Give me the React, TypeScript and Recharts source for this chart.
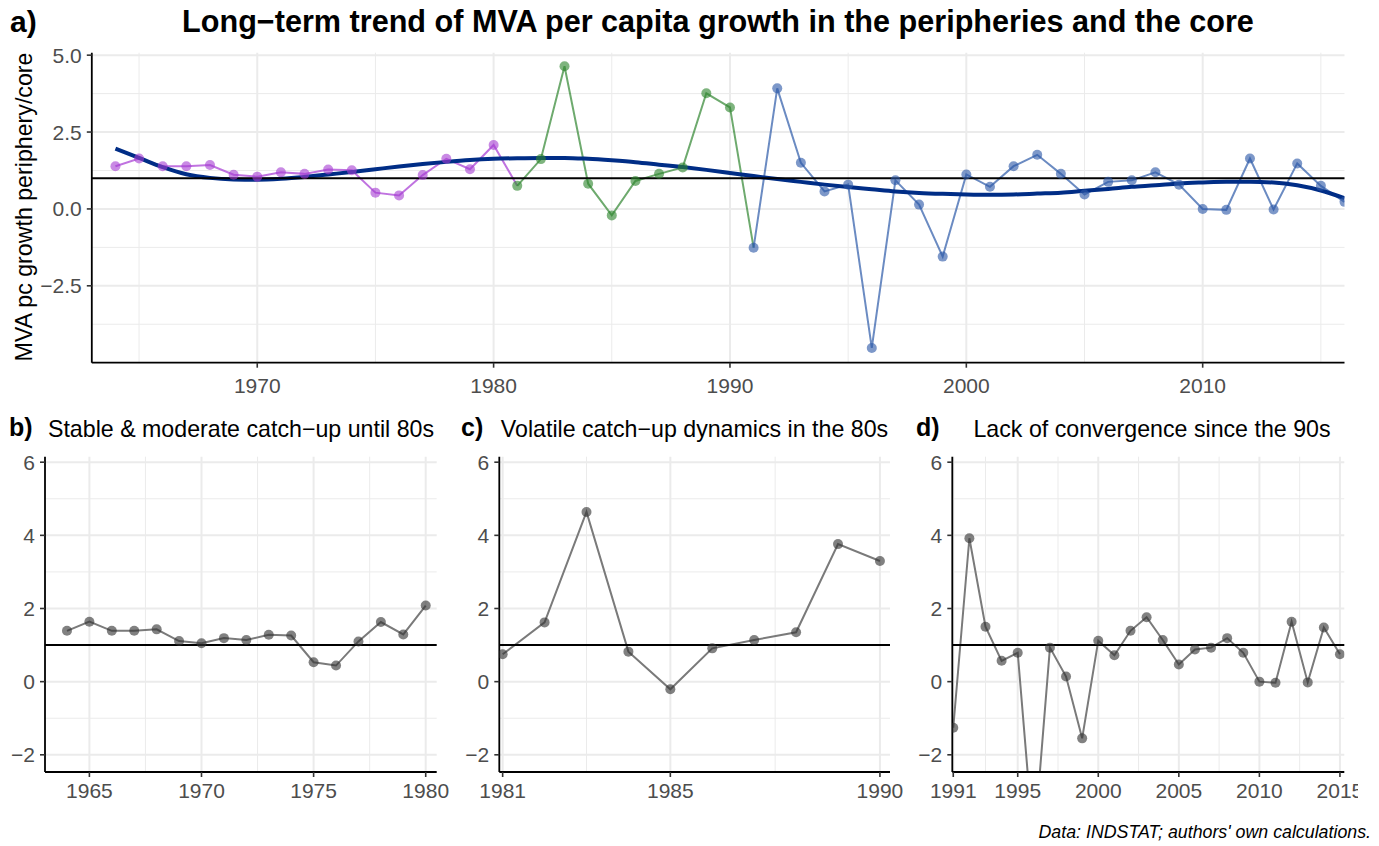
import {
  ComposedChart,
  Line,
  XAxis,
  YAxis,
  CartesianGrid,
  ReferenceLine,
} from 'recharts';

const FONT = '"Liberation Sans", Arial, Helvetica, sans-serif';
const MINUS = '\u2212';

// years and MVA pc growth ratio periphery/core
const YEARS = [
  1964, 1965, 1966, 1967, 1968, 1969, 1970, 1971, 1972, 1973, 1974, 1975, 1976, 1977, 1978, 1979, 1980,
  1981, 1982, 1983, 1984, 1985, 1986, 1987, 1988, 1989, 1990,
  1991, 1992, 1993, 1994, 1995, 1996, 1997, 1998, 1999, 2000, 2001, 2002, 2003, 2004, 2005,
  2006, 2007, 2008, 2009, 2010, 2011, 2012, 2013, 2014, 2015, 2016,
];
const RATIO = [
  1.39, 1.64, 1.39, 1.39, 1.43, 1.11, 1.05, 1.19, 1.14, 1.28, 1.26, 0.53, 0.44, 1.1, 1.63, 1.29, 2.08,
  0.75, 1.62, 4.64, 0.82, -0.21, 0.91, 1.14, 1.35, 3.76, 3.3,
  -1.26, 3.92, 1.5, 0.57, 0.79, -4.52, 0.93, 0.14, -1.55, 1.12, 0.72, 1.39, 1.76, 1.14, 0.47,
  0.88, 0.93, 1.19, 0.79, 0.0, -0.03, 1.64, -0.02, 1.48, 0.75, 0.23,
];
// smoothed long-term trend
const TREND = [
  1.96, 1.66, 1.36, 1.13, 1.01, 0.96, 0.95, 0.98, 1.04, 1.12, 1.2, 1.29, 1.38, 1.46, 1.53, 1.59, 1.63,
  1.65, 1.66, 1.66, 1.63, 1.58, 1.52, 1.44, 1.36, 1.27, 1.17,
  1.07, 0.97, 0.88, 0.79, 0.71, 0.64, 0.57, 0.52, 0.49, 0.47, 0.46, 0.47, 0.5, 0.53, 0.59,
  0.65, 0.72, 0.77, 0.83, 0.86, 0.88, 0.88, 0.86, 0.77, 0.6, 0.35,
];

const MAIN_X_TICKS = [1970, 1980, 1990, 2000, 2010];
const MAIN_X_MINOR = [1965, 1975, 1985, 1995, 2005, 2015];
const MAIN_Y_TICKS = [-2.5, 0, 2.5, 5];
const MAIN_Y_MINOR = [-3.75, -1.25, 1.25, 3.75];

const SMALL_Y_TICKS = [-2, 0, 2, 4, 6];
const SMALL_Y_MINOR = [-1, 1, 3, 5];

const B_X_TICKS = [1965, 1970, 1975, 1980];
const B_X_MINOR = [1967.5, 1972.5, 1977.5];
const C_X_TICKS = [1981, 1985, 1990];
const C_X_MINOR = [1983, 1987.5];
const D_X_TICKS = [1991, 1995, 2000, 2005, 2010, 2015];
const D_X_MINOR = [1993, 1997.5, 2002.5, 2007.5, 2012.5];

const fmt1 = (v: number) => v.toFixed(1).replace('-', MINUS);
const fmt0 = (v: number) => String(v).replace('-', MINUS);

const TICK = { fill: '#4D4D4D', fontSize: 21, fontFamily: FONT };
const AXIS_LINE = { stroke: '#000', strokeWidth: 1.8 };
const TICK_LINE = { stroke: '#333', strokeWidth: 1.6 };

// main panel: lines are coloured by the earlier period at the joins
const mainData = YEARS.map((year, i) => {
  const v = RATIO[i];
  return {
    year,
    purpleLine: year <= 1981 ? v : null,
    greenLine: year >= 1981 && year <= 1991 ? v : null,
    blueLine: year >= 1991 ? v : null,
    purplePt: year <= 1980 ? v : null,
    greenPt: year >= 1981 && year <= 1990 ? v : null,
    bluePt: year >= 1991 ? v : null,
    trend: TREND[i],
  };
});

const rowsBetween = (from: number, to: number) =>
  YEARS.map((year, i) => ({ year, value: RATIO[i] })).filter((d) => d.year >= from && d.year <= to);

interface SmallPanelProps {
  data: { year: number; value: number }[];
  left: number;
  width: number;
  yAxisWidth: number;
  marginRight: number;
  xDomain: [number, number];
  xTicks: number[];
  xMinor: number[];
}

function SmallPanel({ data, left, width, yAxisWidth, marginRight, xDomain, xTicks, xMinor }: SmallPanelProps) {
  return (
    <div style={{ position: 'absolute', left, top: 440, width, height: 372, overflow: 'hidden' }}>
      <ComposedChart width={width} height={372} data={data} margin={{ top: 16.7, right: marginRight, bottom: 0, left: 0 }}>
        <CartesianGrid stroke="#EBEBEB" strokeWidth={1} horizontalValues={SMALL_Y_MINOR} verticalValues={xMinor} />
        <CartesianGrid stroke="#EBEBEB" strokeWidth={2} horizontalValues={SMALL_Y_TICKS} verticalValues={xTicks} />
        <XAxis
          type="number"
          dataKey="year"
          domain={xDomain}
          ticks={xTicks}
          allowDataOverflow
          interval={0}
          height={40}
          tickSize={5}
          tickMargin={6}
          axisLine={AXIS_LINE}
          tickLine={TICK_LINE}
          tick={TICK}
        />
        <YAxis
          type="number"
          domain={[-2.47, 6.15]}
          ticks={SMALL_Y_TICKS}
          allowDataOverflow
          interval={0}
          width={yAxisWidth}
          tickSize={5}
          tickMargin={5}
          tickFormatter={fmt0}
          axisLine={AXIS_LINE}
          tickLine={TICK_LINE}
          tick={TICK}
        />
        <Line dataKey="value" stroke="#7A7A7A" strokeWidth={2} dot={false} activeDot={false} isAnimationActive={false} />
        <Line
          dataKey="value"
          stroke="none"
          dot={{ r: 5, fill: '#333333', fillOpacity: 0.62, stroke: 'none' }}
          activeDot={false}
          isAnimationActive={false}
        />
        <ReferenceLine y={1} stroke="#000" strokeWidth={2} />
      </ComposedChart>
    </div>
  );
}

export default function App() {
  return (
    <div style={{ position: 'absolute', left: 0, top: 0, width: 1379, height: 846, background: '#fff', fontFamily: FONT }}>
      <div style={{ position: 'absolute', left: 0, top: 0 }}>
        <ComposedChart width={1379} height={400} data={mainData} margin={{ top: 52.7, right: 34.5, bottom: 0, left: 0 }}>
          <CartesianGrid stroke="#EBEBEB" strokeWidth={1} horizontalValues={MAIN_Y_MINOR} verticalValues={MAIN_X_MINOR} />
          <CartesianGrid stroke="#EBEBEB" strokeWidth={2} horizontalValues={MAIN_Y_TICKS} verticalValues={MAIN_X_TICKS} />
          <XAxis
            type="number"
            dataKey="year"
            domain={[1963, 2016]}
            ticks={MAIN_X_TICKS}
            allowDataOverflow
            interval={0}
            height={37.3}
            tickSize={5}
            tickMargin={10}
            axisLine={AXIS_LINE}
            tickLine={TICK_LINE}
            tick={TICK}
          />
          <YAxis
            type="number"
            domain={[-5, 5.08]}
            ticks={MAIN_Y_TICKS}
            allowDataOverflow
            interval={0}
            width={91.8}
            tickSize={5}
            tickMargin={5}
            tickFormatter={fmt1}
            axisLine={AXIS_LINE}
            tickLine={TICK_LINE}
            tick={TICK}
          />
          <Line dataKey="purpleLine" stroke="#B050D8" strokeOpacity={0.8} strokeWidth={2} dot={false} activeDot={false} isAnimationActive={false} />
          <Line dataKey="greenLine" stroke="#3E8E3E" strokeOpacity={0.75} strokeWidth={2} dot={false} activeDot={false} isAnimationActive={false} />
          <Line dataKey="blueLine" stroke="#3A64AE" strokeOpacity={0.75} strokeWidth={2} dot={false} activeDot={false} isAnimationActive={false} />
          <Line dataKey="purplePt" stroke="none" dot={{ r: 5, fill: '#A53CD2', fillOpacity: 0.6, stroke: 'none' }} activeDot={false} isAnimationActive={false} />
          <Line dataKey="greenPt" stroke="none" dot={{ r: 5, fill: '#2F862F', fillOpacity: 0.62, stroke: 'none' }} activeDot={false} isAnimationActive={false} />
          <Line dataKey="bluePt" stroke="none" dot={{ r: 5, fill: '#2D58A8', fillOpacity: 0.62, stroke: 'none' }} activeDot={false} isAnimationActive={false} />
          <Line dataKey="trend" type="monotone" stroke="#002D86" strokeWidth={4} dot={false} activeDot={false} isAnimationActive={false} />
          <ReferenceLine y={1} stroke="#000" strokeWidth={2} />
        </ComposedChart>
      </div>

      <SmallPanel data={rowsBetween(1964, 1980)} left={0} width={460} yAxisWidth={45} marginRight={23.3} xDomain={[1963.02, 1980.49]} xTicks={B_X_TICKS} xMinor={B_X_MINOR} />
      <SmallPanel data={rowsBetween(1981, 1990)} left={455} width={455} yAxisWidth={44.3} marginRight={20} xDomain={[1980.92, 1990.24]} xTicks={C_X_TICKS} xMinor={C_X_MINOR} />
      <SmallPanel data={rowsBetween(1991, 2015)} left={905} width={453} yAxisWidth={47.3} marginRight={13.7} xDomain={[1990.94, 2015.27]} xTicks={D_X_TICKS} xMinor={D_X_MINOR} />

      <svg width={1379} height={846} style={{ position: 'absolute', left: 0, top: 0, pointerEvents: 'none' }} fontFamily={FONT}>
        <text x={10} y={32} fontSize={30} fontWeight="bold" fill="#000">a)</text>
        <text x={718} y={32} fontSize={30.6} fontWeight="bold" textAnchor="middle" fill="#000">
          Long{MINUS}term trend of MVA per capita growth in the peripheries and the core
        </text>
        <text x={0} y={0} transform="translate(31.5,207) rotate(-90)" fontSize={23.2} textAnchor="middle" fill="#000">
          MVA pc growth periphery/core
        </text>
        <text x={9} y={436} fontSize={25} fontWeight="bold" fill="#000">b)</text>
        <text x={241} y={436.5} fontSize={23.2} textAnchor="middle" fill="#000">
          Stable &amp; moderate catch{MINUS}up until 80s
        </text>
        <text x={461} y={436} fontSize={25} fontWeight="bold" fill="#000">c)</text>
        <text x={694.5} y={436.5} fontSize={23.2} textAnchor="middle" fill="#000">
          Volatile catch{MINUS}up dynamics in the 80s
        </text>
        <text x={916} y={436} fontSize={25} fontWeight="bold" fill="#000">d)</text>
        <text x={1152} y={436.5} fontSize={23.2} textAnchor="middle" fill="#000">
          Lack of convergence since the 90s
        </text>
        <text x={1371} y={838} fontSize={17.8} fontStyle="italic" textAnchor="end" fill="#000">
          Data: INDSTAT; authors' own calculations.
        </text>
      </svg>
    </div>
  );
}
